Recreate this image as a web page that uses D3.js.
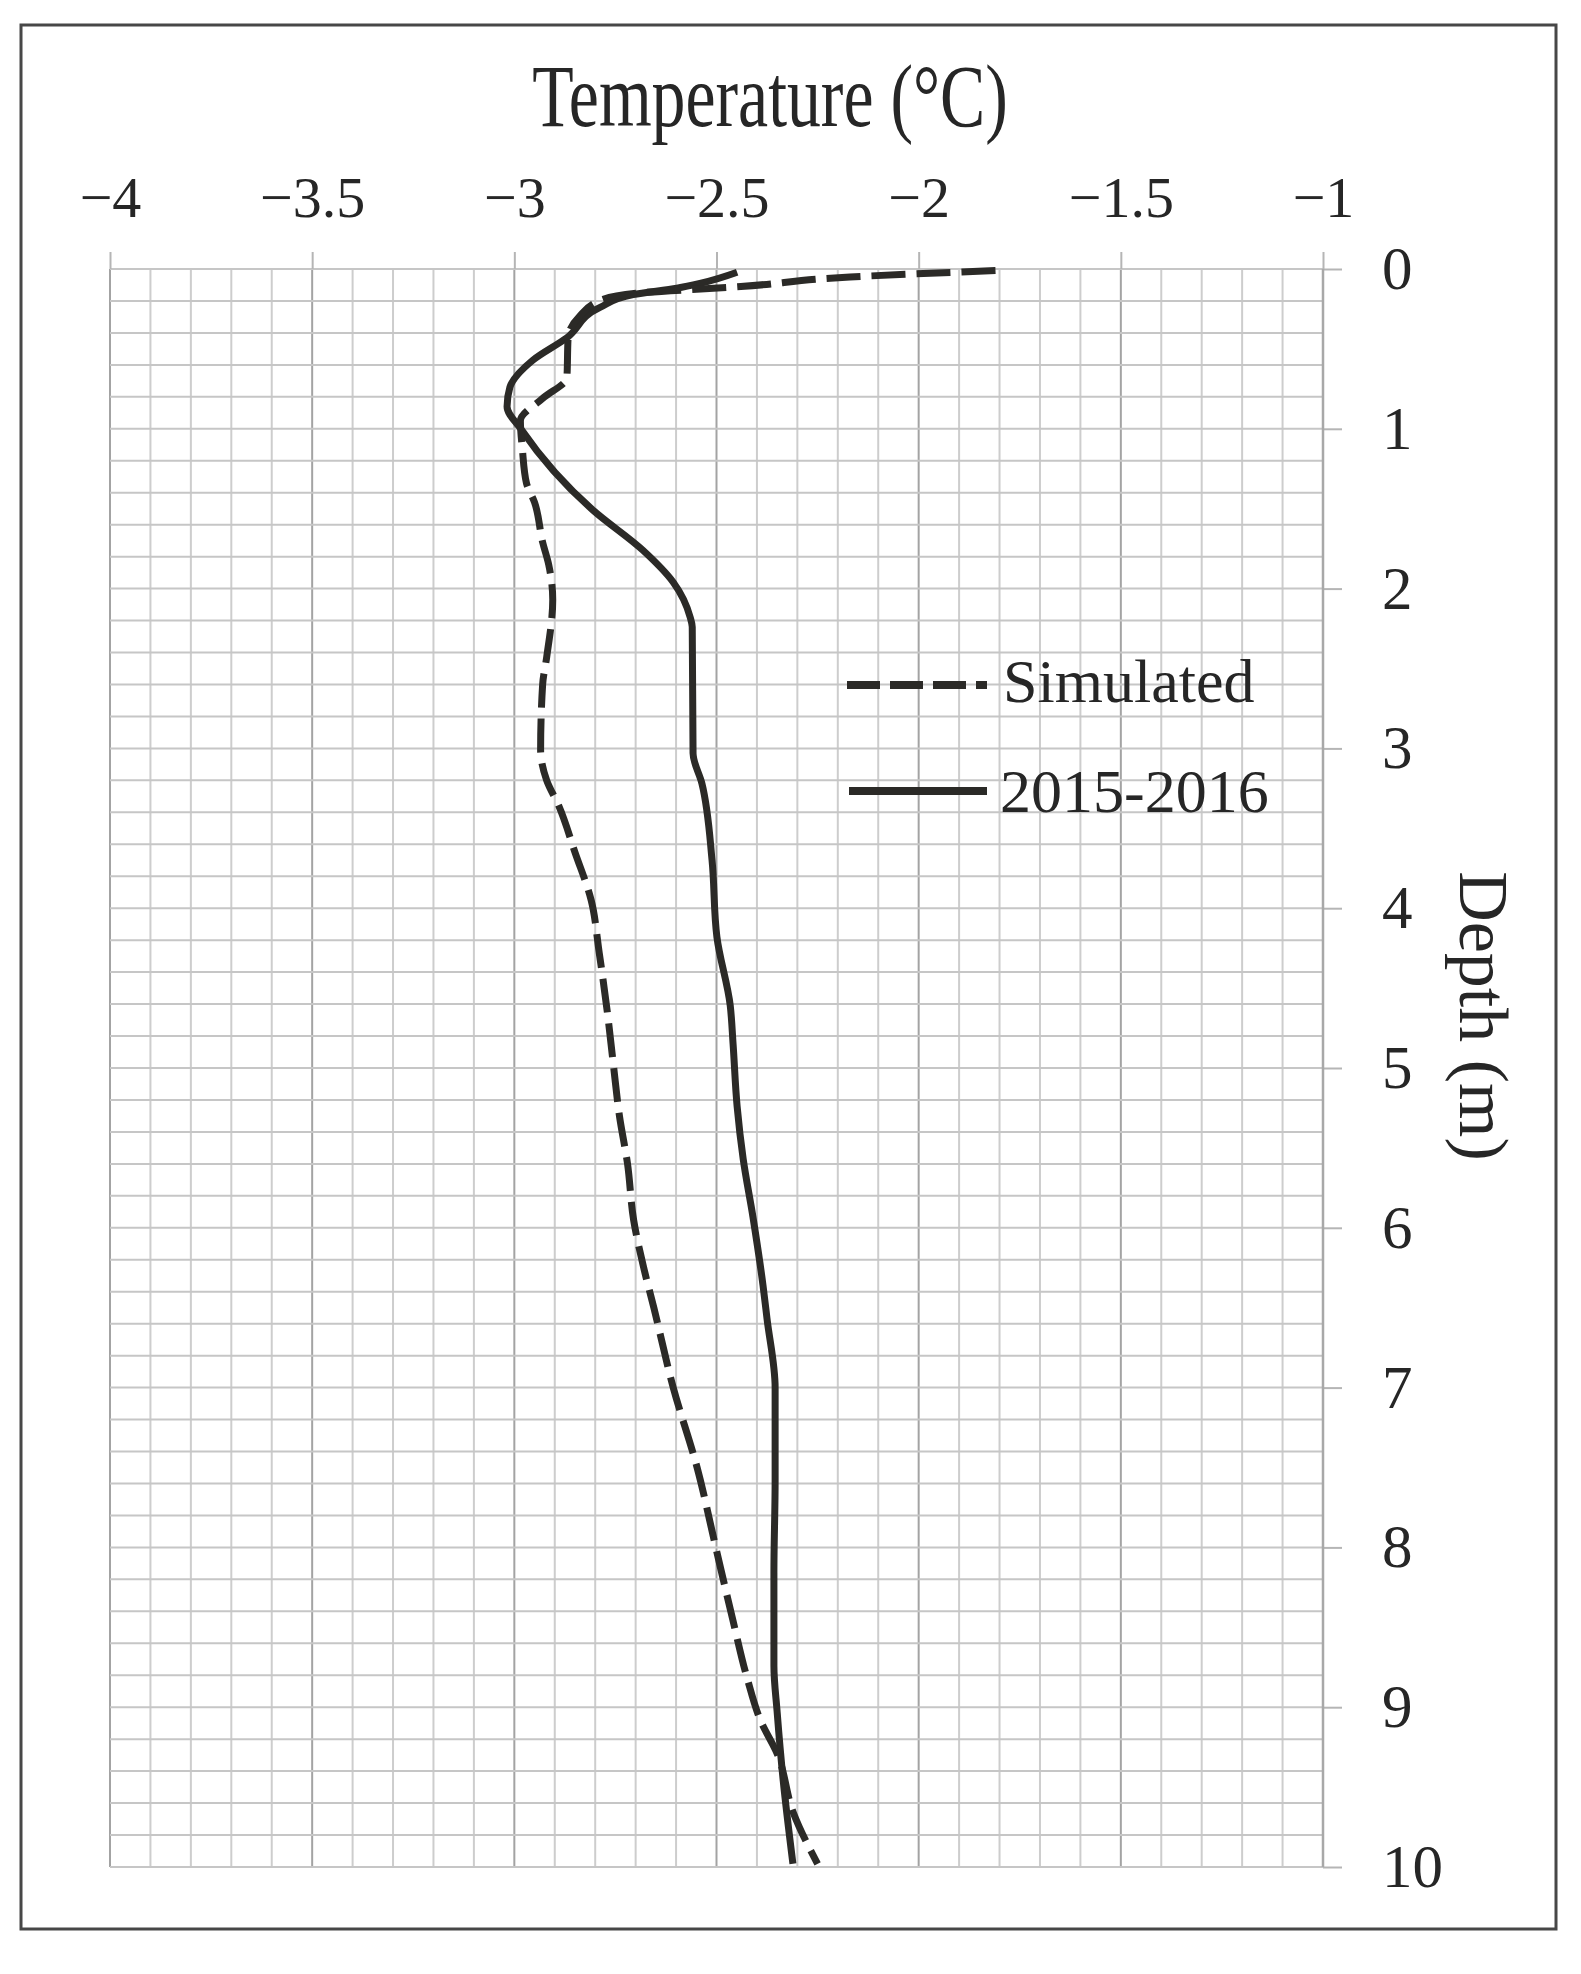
<!DOCTYPE html>
<html>
<head>
<meta charset="utf-8">
<script src="https://cdn.jsdelivr.net/npm/d3@7"></script>
<style>
  html, body { margin: 0; padding: 0; background: #ffffff; }
  svg { display: block; }
  text { font-family: "Liberation Serif", "Times New Roman", serif; fill: #262626; }
</style>
</head>
<body>
<svg id="chart" width="1581" height="1974"></svg>
<script>
// ---------- data ----------
const tempTicks = [-4, -3.5, -3, -2.5, -2, -1.5, -1];
const depthTicks = [0, 1, 2, 3, 4, 5, 6, 7, 8, 9, 10];
const seriesNames = ["Simulated", "2015-2016"];

// Simulated profile (dashed)
const simulatedTemp = [-1.81, -2.17, -2.44, -2.69, -2.78, -2.84, -2.867, -2.87, -2.93, -2.985,
  -2.98, -2.97, -2.95, -2.93, -2.915, -2.905, -2.92, -2.93, -2.935, -2.92, -2.89, -2.85,
  -2.81, -2.79, -2.77, -2.755, -2.74, -2.72, -2.705, -2.68, -2.655, -2.607, -2.548, -2.50,
  -2.46, -2.424, -2.39, -2.35, -2.31, -2.25];
const simulatedDepth = [0.01, 0.05, 0.11, 0.15, 0.19, 0.30, 0.43, 0.68, 0.81, 0.95,
  1.13, 1.34, 1.46, 1.71, 1.85, 2.07, 2.43, 2.6, 3.01, 3.2, 3.36, 3.65,
  3.95, 4.28, 4.65, 4.98, 5.3, 5.6, 5.95, 6.25, 6.5, 7.0, 7.5, 8.02,
  8.45, 8.82, 9.09, 9.29, 9.66, 9.98];

// 2015-2016 measured profile (solid)
const measuredTemp = [-2.449, -2.541, -2.598, -2.706, -2.788, -2.870, -2.954, -3.011, -3.018, -2.981,
  -2.805, -2.682, -2.607, -2.565, -2.560, -2.558, -2.536, -2.511, -2.499, -2.466, -2.459,
  -2.449, -2.434, -2.410, -2.385, -2.375, -2.355, -2.355, -2.358, -2.358, -2.350, -2.335, -2.311];
const measuredDepth = [0.02, 0.09, 0.12, 0.16, 0.24, 0.43, 0.57, 0.74, 0.86, 1.01,
  1.51, 1.76, 1.96, 2.18, 2.24, 3.03, 3.22, 3.70, 4.18, 4.61, 4.85,
  5.24, 5.57, 5.93, 6.36, 6.57, 7.00, 7.58, 8.16, 8.74, 9.03, 9.46, 9.98];

// ---------- layout ----------
const svg = d3.select("#chart");
const L = 110, R = 1323, T = 269, B = 1867;
const x = d3.scaleLinear().domain([-4, -1]).range([L, R]);
const y = d3.scaleLinear().domain([0, 10]).range([T, B]);
const ink = "#2b2a27";

// frame
svg.append("rect").attr("x", 21).attr("y", 25).attr("width", 1535).attr("height", 1904)
  .attr("fill", "#fff").attr("stroke", "#474747").attr("stroke-width", 3);

// grid
const grid = svg.append("g");
grid.selectAll("line.gx").data(x.ticks(30)).join("line")
  .attr("x1", d => x(d)).attr("x2", d => x(d)).attr("y1", T).attr("y2", B)
  .attr("stroke", d => Math.abs(d * 2 - Math.round(d * 2)) < 1e-6 ? "#a3a3a3" : "#cdcdcd")
  .attr("stroke-width", 2);
grid.selectAll("line.gy").data(y.ticks(50)).join("line")
  .attr("x1", L).attr("x2", R).attr("y1", d => y(d)).attr("y2", d => y(d))
  .attr("stroke", "#c6c6c6").attr("stroke-width", 2);

// axes
const fmt = d3.format("");
const xAxis = svg.append("g").attr("transform", `translate(0,${T})`)
  .call(d3.axisTop(x).tickValues(tempTicks).tickSize(17).tickPadding(35).tickFormat(fmt));
xAxis.select(".domain").remove();
xAxis.selectAll(".tick line").attr("stroke", "#b5b5b5").attr("stroke-width", 2);
xAxis.selectAll(".tick text").attr("font-size", 58).attr("fill", "#262626")
  .attr("font-family", '"Liberation Serif", serif');

const yAxis = svg.append("g").attr("transform", `translate(${R},0)`)
  .call(d3.axisRight(y).tickValues(depthTicks).tickSize(19).tickPadding(40).tickFormat(fmt));
yAxis.select(".domain").remove();
yAxis.selectAll(".tick line").attr("stroke", "#b5b5b5").attr("stroke-width", 2);
yAxis.selectAll(".tick text").attr("font-size", 61).attr("fill", "#262626")
  .attr("font-family", '"Liberation Serif", serif');

// right edge of plot
svg.append("line").attr("x1", R).attr("x2", R).attr("y1", T).attr("y2", B)
  .attr("stroke", "#a8a8a8").attr("stroke-width", 2.5);

// axis titles
svg.append("text").attr("transform", "translate(770,126) scale(0.77,1)")
  .attr("text-anchor", "middle").attr("font-size", 88).text("Temperature (°C)");
svg.append("text").attr("transform", "translate(1460,1016) rotate(90)")
  .attr("text-anchor", "middle").attr("font-size", 70).text("Depth (m)");

// curves
const line = d3.line().x(d => x(d[0])).y(d => y(d[1])).curve(d3.curveMonotoneY);
const simPts = simulatedTemp.map((t, i) => [t, simulatedDepth[i]]);
const meaPts = measuredTemp.map((t, i) => [t, measuredDepth[i]]);

svg.append("path").datum(meaPts).attr("d", line)
  .attr("fill", "none").attr("stroke", ink).attr("stroke-width", 7)
  .attr("stroke-linejoin", "round");
svg.append("path").datum(simPts).attr("d", line)
  .attr("fill", "none").attr("stroke", ink).attr("stroke-width", 7)
  .attr("stroke-dasharray", "34,11");

// legend
const lg = svg.append("g");
lg.append("line").attr("x1", 847).attr("x2", 987).attr("y1", 685).attr("y2", 685)
  .attr("stroke", ink).attr("stroke-width", 8).attr("stroke-dasharray", "33,10");
lg.append("text").attr("x", 1003).attr("y", 702).attr("font-size", 62).text(seriesNames[0]);
lg.append("line").attr("x1", 849).attr("x2", 987).attr("y1", 791).attr("y2", 791)
  .attr("stroke", ink).attr("stroke-width", 8);
lg.append("text").attr("x", 1000).attr("y", 812).attr("font-size", 62).text(seriesNames[1]);
</script>
</body>
</html>
